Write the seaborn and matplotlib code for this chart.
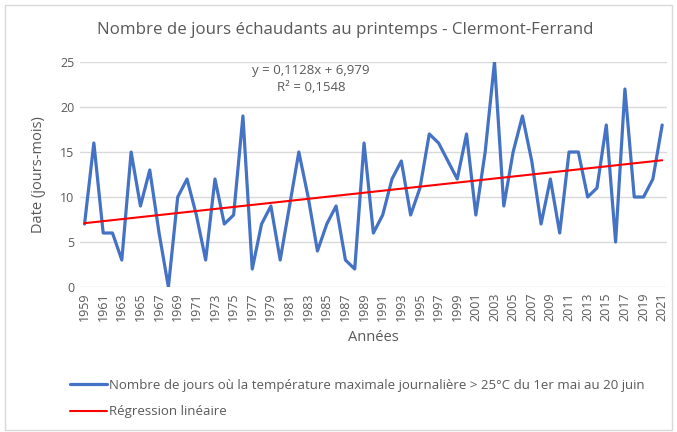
import matplotlib
matplotlib.use("Agg")
import matplotlib.pyplot as plt
import numpy as np
import seaborn as sns
from matplotlib.patches import Rectangle

years = list(range(1959, 2022))
jours = [7, 16, 6, 6, 3, 15, 9, 13, 6, 0,
         10, 12, 8, 3, 12, 7, 8, 19, 2, 7,
         9, 3, 9, 15, 10, 4, 7, 9, 3, 2,
         16, 6, 8, 12, 14, 8, 11, 17, 16, 14,
         12, 17, 8, 15, 25, 9, 15, 19, 14, 7,
         12, 6, 15, 15, 10, 11, 18, 5, 22, 10,
         10, 12, 18]
title = "Nombre de jours échaudants au printemps - Clermont-Ferrand"
serie_label = ("Nombre de jours où la température maximale journalière > 25°C "
               "du 1er mai au 20 juin")
reg_label = "Régression linéaire"
equation = "y = 0,1128x + 6,979\nR² = 0,1548"

sns.set_theme(style="white")
plt.rcParams["font.family"] = ["Open Sans", "DejaVu Sans"]
GREY = "#595959"

# linear fit on the category index (1..n), as the spreadsheet does
idx = np.arange(1, len(years) + 1)
slope, inter = np.polyfit(idx, jours, 1)
fit = slope * idx + inter

fig = plt.figure(figsize=(6.77, 4.32), dpi=100)
ax = fig.add_axes([0.118, 0.3356, 0.867, 0.5209])

sns.lineplot(x=years, y=jours, ax=ax, color="#4472C4", linewidth=2.3,
             label=serie_label, solid_joinstyle="round")
sns.lineplot(x=years, y=fit, ax=ax, color="#FF0000", linewidth=1.5,
             label=reg_label)

ax.set_xlim(1958.5, 2021.5)
ax.set_ylim(0, 25)
ax.set_yticks(range(0, 26, 5))
ax.set_xticks(years[::2])
ax.set_xticklabels([str(y) for y in years[::2]], rotation=90)
ax.tick_params(axis="both", colors=GREY, labelsize=9, length=0, pad=4)
ax.yaxis.grid(True, color="#D9D9D9", linewidth=1)
for s in ax.spines.values():
    s.set_visible(False)

ax.set_xlabel("Années", color=GREY, fontsize=10.5, labelpad=6)
ax.set_ylabel("Date (jours-mois)", color=GREY, fontsize=10.5, labelpad=10)
fig.text(0.51, 0.93, title, ha="center", va="center", color=GREY, fontsize=12.2)
ax.text(1983.3, 23.1, equation, ha="center", va="center", color=GREY,
        fontsize=9.5, linespacing=1.35)

handles, labels = ax.get_legend_handles_labels()
ax.legend(handles, labels, loc="upper left", bbox_to_anchor=(0.095, 0.135),
          bbox_transform=fig.transFigure, frameon=False, fontsize=9.5,
          labelcolor=GREY, handlelength=2.8, handletextpad=0.2,
          labelspacing=1.0, borderaxespad=0)

fig.patches.append(Rectangle((0.008, 0.004), 0.984, 0.985, transform=fig.transFigure,
                             fill=False, edgecolor="#D9D9D9", linewidth=1))
fig.savefig("out.png", dpi=100)
